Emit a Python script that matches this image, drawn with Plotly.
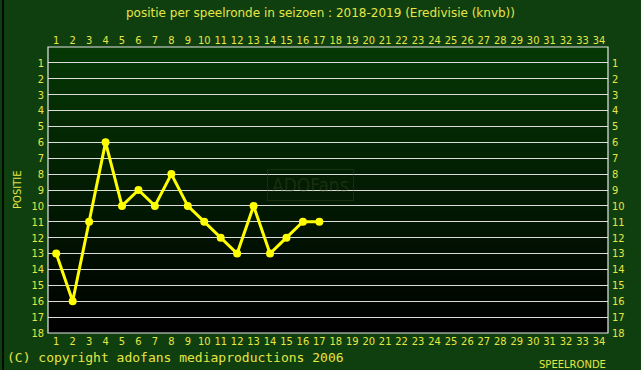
import plotly.graph_objects as go

rounds = list(range(1, 18))
positions = [13, 16, 11, 6, 10, 9, 10, 8, 10, 11, 12, 13, 10, 13, 12, 11, 11]
x_ticks = list(range(1, 35))
y_ticks = list(range(1, 19))

TXT = "#e6e645"
LINE = "#ffff00"
PAPER = "#0f3f0f"

fig = go.Figure()

fig.add_trace(go.Scatter(
    x=rounds, y=positions, mode="lines+markers",
    line=dict(color=LINE, width=3),
    marker=dict(color=LINE, size=8),
    showlegend=False,
))
fig.add_trace(go.Scatter(x=[None], y=[None], xaxis="x2", yaxis="y2", showlegend=False))

# vertical gradient background (strips in paper coords, below grid)
shapes = []
N = 60
top = (5, 56, 5)
for i in range(N):
    f = i / (N - 1)  # 0 at bottom, 1 at top
    c = tuple(int(round(v * f)) for v in top)
    shapes.append(dict(type="rect", xref="paper", yref="paper", x0=0, x1=1,
                       y0=i / N, y1=(i + 1) / N + 0.002, line=dict(width=0),
                       fillcolor="rgb(%d,%d,%d)" % c, layer="below"))
shapes += [
    dict(type="rect", xref="paper", yref="paper", x0=0, x1=1, y0=0, y1=1,
         line=dict(color="#e8e8e8", width=1.2), layer="above"),
    dict(type="line", xref="paper", yref="paper", x0=-45/560, x1=-45/560,
         y0=-37/286, y1=1 + 47/286, line=dict(color="#020a02", width=2)),
]

tickfont = dict(family="DejaVu Sans Condensed, DejaVu Sans", size=11, color=TXT)

fig.update_layout(
    width=641, height=370,
    margin=dict(l=48, r=33, t=47, b=37),
    paper_bgcolor=PAPER, plot_bgcolor="#000000",
    title=dict(text="positie per speelronde in seizoen : 2018-2019 (Eredivisie (knvb))",
               x=0.5, xanchor="center", y=0.965, yanchor="middle",
               font=dict(family="DejaVu Sans", size=12, color=TXT)),
    xaxis=dict(range=[0.5, 34.55], tickvals=x_ticks, ticktext=[str(v) for v in x_ticks],
               showgrid=False, zeroline=False, showline=False, ticks="",
               tickfont=tickfont, ticklabelstandoff=0, fixedrange=True),
    yaxis=dict(range=[18, 0], tickvals=y_ticks, ticktext=[str(v) for v in y_ticks],
               showgrid=True, gridcolor="#dcdcdc", gridwidth=1, zeroline=False,
               showline=False, ticks="", tickfont=tickfont, ticklabelstandoff=3),
    xaxis2=dict(range=[0.5, 34.55], overlaying="x", side="top", tickvals=x_ticks,
                ticktext=[str(v) for v in x_ticks], showgrid=False, zeroline=False,
                ticks="", tickfont=tickfont, ticklabelstandoff=0),
    yaxis2=dict(range=[18, 0], overlaying="y", side="right", tickvals=y_ticks,
                ticktext=[str(v) for v in y_ticks], showgrid=False, zeroline=False,
                ticks="", tickfont=tickfont, ticklabelstandoff=3, anchor="x2"),
    shapes=shapes,
    annotations=[
        dict(text="(C) copyright adofans mediaproductions 2006", xref="paper", yref="paper",
             x=-43/560, y=-24/286, xanchor="left", yanchor="middle", showarrow=False,
             font=dict(family="DejaVu Sans Mono", size=13, color=TXT)),
        dict(text="SPEELRONDE", xref="paper", yref="paper",
             x=1, y=-31/286, xanchor="right", yanchor="middle", showarrow=False,
             font=dict(family="DejaVu Sans", size=10, color=TXT)),
        dict(text="POSITIE", xref="paper", yref="paper", textangle=-90,
             x=-31/560, y=0.5, xanchor="center", yanchor="middle", showarrow=False,
             font=dict(family="DejaVu Sans", size=10, color=TXT)),
        dict(text="ADOFans", xref="paper", yref="paper",
             x=(310-48)/560, y=1-(185-47)/286, xanchor="center", yanchor="middle",
             showarrow=False, bordercolor="rgba(50,70,30,0.45)", borderwidth=1, borderpad=4,
             font=dict(family="DejaVu Sans Condensed, DejaVu Sans", size=19,
                       color="rgba(60,75,35,0.4)")),
    ],
)

fig.write_html("out.html", config={"displayModeBar": False},
               post_script="document.body.style.margin='0';")
